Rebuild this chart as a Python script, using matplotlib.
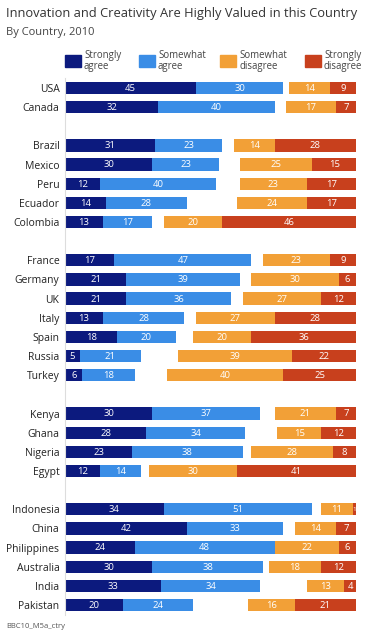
import matplotlib
matplotlib.use("Agg")
import matplotlib.pyplot as plt
from matplotlib.patches import Rectangle

plt.rcParams['font.family'] = ['Open Sans', 'DejaVu Sans']

countries = ["USA", "Canada", "Brazil", "Mexico", "Peru", "Ecuador", "Colombia",
             "France", "Germany", "UK", "Italy", "Spain", "Russia", "Turkey",
             "Kenya", "Ghana", "Nigeria", "Egypt",
             "Indonesia", "China", "Philippines", "Australia", "India", "Pakistan"]
groups = [2, 5, 7, 4, 6]
strongly_agree = [45, 32, 31, 30, 12, 14, 13, 17, 21, 21, 13, 18, 5, 6,
                  30, 28, 23, 12, 34, 42, 24, 30, 33, 20]
somewhat_agree = [30, 40, 23, 23, 40, 28, 17, 47, 39, 36, 28, 20, 21, 18,
                  37, 34, 38, 14, 51, 33, 48, 38, 34, 24]
somewhat_disagree = [14, 17, 14, 25, 23, 24, 20, 23, 30, 27, 27, 20, 39, 40,
                     21, 15, 28, 30, 11, 14, 22, 18, 13, 16]
strongly_disagree = [9, 7, 28, 15, 17, 17, 46, 9, 6, 12, 28, 36, 22, 25,
                     7, 12, 8, 41, 1, 7, 6, 12, 4, 21]
legend_labels = ["Strongly\nagree", "Somewhat\nagree", "Somewhat\ndisagree", "Strongly\ndisagree"]

colors = ["#0c1a7e", "#3a8de6", "#f2a037", "#c8401d"]

# row positions with gaps between groups
pos = []
p = 0
for g in groups:
    for _ in range(g):
        pos.append(p)
        p += 1
    p += 1

W, H = 372, 637
fig = plt.figure(figsize=(W / 100, H / 100), dpi=100)
top_px, bot_px = 78.4, 614.6
ax = fig.add_axes([65 / W, 1 - bot_px / H, 291 / W, (bot_px - top_px) / H])

bh = 0.64
for i, y in enumerate(pos):
    sa, wa = strongly_agree[i], somewhat_agree[i]
    wd, sd = somewhat_disagree[i], strongly_disagree[i]
    segs = [(0, sa, colors[0]), (sa, wa, colors[1]),
            (100 - sd - wd, wd, colors[2]), (100 - sd, sd, colors[3])]
    for left, w, c in segs:
        ax.barh(y, w, left=left, height=bh, color=c, edgecolor='none')
        fs = 6.8 if w > 1 else 4.5
        ax.text(left + w / 2, y + 0.02, str(w), color='white', ha='center',
                va='center', fontsize=fs)

ax.set_xlim(0, 100)
ax.set_ylim(pos[-1] + 0.5, -0.5)
ax.set_yticks(pos)
ax.set_yticklabels(countries, fontsize=7.5, color='#222222')
ax.tick_params(axis='y', length=0, pad=4)
ax.set_xticks([])
for s in ['top', 'right', 'bottom']:
    ax.spines[s].set_visible(False)
ax.spines['left'].set_color('#dddddd')
ax.spines['left'].set_linewidth(0.8)

# title
fig.text(6 / W, 1 - 13 / H, "Innovation and Creativity Are Highly Valued in this Country",
         fontsize=9.3, color='#333333', va='center', ha='left')
fig.text(6 / W, 1 - 32 / H, "By Country, 2010", fontsize=8, color='#444444',
         va='center', ha='left')

# legend
leg_x = [65, 139, 220, 305]
for x, lab, c in zip(leg_x, legend_labels, colors):
    fig.patches.append(Rectangle((x / W, 1 - 67 / H), 16 / W, 12 / H,
                                 transform=fig.transFigure, color=c))
    fig.text((x + 19) / W, 1 - 61 / H, lab, fontsize=6.9, color='#444444',
             va='center', ha='left', linespacing=0.95)

fig.text(6 / W, 1 - 627 / H, "BBC10_M5a_ctry", fontsize=5.5, color='#555555',
         va='center', ha='left')

fig.savefig("out.png", dpi=100, facecolor='white')
